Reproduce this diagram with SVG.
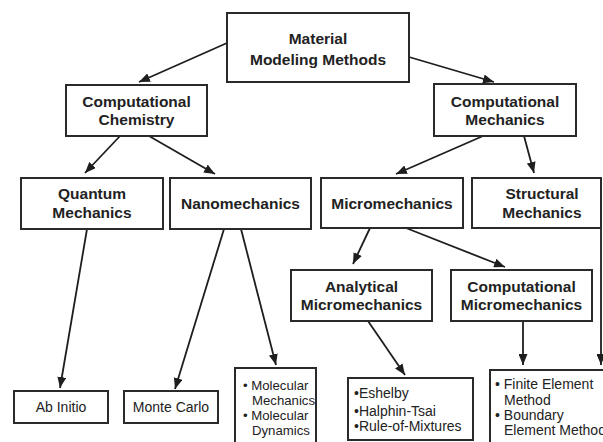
<svg xmlns="http://www.w3.org/2000/svg" width="603" height="442" viewBox="0 0 603 442">
<defs>
<marker id="ah" markerWidth="11" markerHeight="9" refX="11" refY="4.5" orient="auto" markerUnits="userSpaceOnUse">
<path d="M0,0 L11,4.5 L0,9 z" fill="#1e1e1e"/>
</marker>
<style>
.box{fill:#fff;stroke:#2a2a2a;stroke-width:2}
.t{font-family:"Liberation Sans",Arial,sans-serif;font-weight:bold;font-size:15.5px;fill:#222;text-anchor:middle}
.r{font-family:"Liberation Sans",Arial,sans-serif;font-size:14px;fill:#222}
.s{font-size:13.2px}
.c{text-anchor:middle}
.ln{stroke:#1e1e1e;stroke-width:1.8;fill:none;marker-end:url(#ah)}
</style>
</defs>
<rect width="603" height="442" fill="#fff"/>
<g id="connectors">
<line class="ln" x1="227" y1="43" x2="139" y2="82"/>
<line class="ln" x1="409" y1="57" x2="494" y2="82"/>
<line class="ln" x1="120" y1="136" x2="85" y2="173"/>
<line class="ln" x1="149" y1="136" x2="215" y2="174"/>
<line class="ln" x1="483" y1="136" x2="396" y2="174"/>
<line class="ln" x1="524" y1="136" x2="534" y2="173"/>
<line class="ln" x1="87" y1="229" x2="60" y2="388"/>
<line class="ln" x1="224" y1="229" x2="175" y2="389"/>
<line class="ln" x1="241" y1="229" x2="276" y2="365"/>
<line class="ln" x1="370" y1="228" x2="353" y2="264"/>
<line class="ln" x1="406" y1="228" x2="505" y2="267"/>
<line class="ln" x1="368" y1="321" x2="405" y2="375"/>
<line class="ln" x1="523" y1="321" x2="523" y2="365"/>
<line class="ln" x1="601" y1="228" x2="601" y2="365"/>
</g>
<g id="material">
<rect class="box" x="227" y="13" width="182" height="69"/>
<text class="t" x="318" y="44">Material</text>
<text class="t" x="318" y="65">Modeling Methods</text>
</g>
<g id="comp-chem">
<rect class="box" x="66" y="85" width="141" height="51"/>
<text class="t" x="136.5" y="107">Computational</text>
<text class="t" x="136.5" y="125">Chemistry</text>
</g>
<g id="comp-mech">
<rect class="box" x="434" y="84" width="142" height="52"/>
<text class="t" x="505" y="107">Computational</text>
<text class="t" x="505" y="125">Mechanics</text>
</g>
<g id="quantum">
<rect class="box" x="21" y="178" width="142" height="51"/>
<text class="t" x="92" y="199">Quantum</text>
<text class="t" x="92" y="218">Mechanics</text>
</g>
<g id="nano">
<rect class="box" x="170" y="178" width="141" height="51"/>
<text class="t" x="240.5" y="209">Nanomechanics</text>
</g>
<g id="micro">
<rect class="box" x="321" y="178" width="142" height="50"/>
<text class="t" x="392" y="209">Micromechanics</text>
</g>
<g id="structural">
<rect class="box" x="472" y="178" width="129" height="50"/>
<text class="t" x="542" y="199">Structural</text>
<text class="t" x="542" y="218">Mechanics</text>
</g>
<g id="analytical">
<rect class="box" x="291" y="270" width="141" height="51"/>
<text class="t" x="361.5" y="292">Analytical</text>
<text class="t" x="361.5" y="310">Micromechanics</text>
</g>
<g id="comp-micro">
<rect class="box" x="451" y="270" width="141" height="51"/>
<text class="t" x="521.5" y="292">Computational</text>
<text class="t" x="521.5" y="310">Micromechanics</text>
</g>
<g id="ab-initio">
<rect class="box" x="14" y="391" width="94" height="32"/>
<text class="r c" x="61" y="412">Ab Initio</text>
</g>
<g id="monte-carlo">
<rect class="box" x="124" y="391" width="94" height="32"/>
<text class="r c" x="171" y="412">Monte Carlo</text>
</g>
<g id="molecular">
<rect class="box" x="235" y="368" width="81" height="90"/>
<text class="r s" x="243" y="390">• Molecular</text>
<text class="r s" x="252" y="405">Mechanics</text>
<text class="r s" x="243" y="420">• Molecular</text>
<text class="r s" x="252" y="435">Dynamics</text>
</g>
<g id="eshelby">
<rect class="box" x="348" y="378" width="125" height="62"/>
<text class="r" x="354" y="398">•Eshelby</text>
<text class="r" x="354" y="416">•Halphin-Tsai</text>
<text class="r" x="354" y="431">•Rule-of-Mixtures</text>
</g>
<g id="fem">
<rect class="box" x="490" y="370" width="130" height="90"/>
<text class="r" x="495" y="389">• Finite Element</text>
<text class="r" x="504" y="405">Method</text>
<text class="r" x="495" y="420">• Boundary</text>
<text class="r" x="504" y="435">Element Method</text>
</g>
</svg>
